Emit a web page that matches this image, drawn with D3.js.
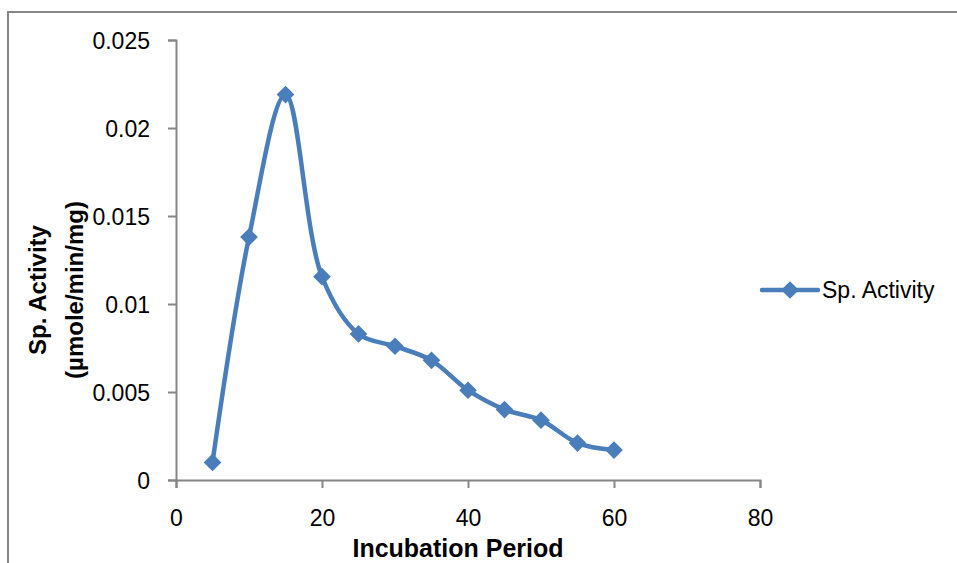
<!DOCTYPE html>
<html>
<head>
<meta charset="utf-8">
<script src="https://cdn.jsdelivr.net/npm/d3@7"></script>
<style>
  body { margin: 0; background: #fff; }
  svg { display: block; font-family: "Liberation Sans", Arial, sans-serif; }
</style>
</head>
<body>
<svg width="957" height="563"></svg>
<script>
// data
const days = [5, 10, 15, 20, 25, 30, 35, 40, 45, 50, 55, 60];
const activity = [0.0010, 0.0138, 0.0219, 0.01155, 0.0083, 0.0076, 0.0068, 0.0051, 0.0040, 0.0034, 0.0021, 0.0017];
const xTicks = [0, 20, 40, 60, 80];
const yTicks = [0, 0.005, 0.01, 0.015, 0.02, 0.025];
const seriesName = "Sp. Activity";

const svg = d3.select("svg");
const blue = "#4a7ebb";
const grey = "#868686";

// outer frame (runs off the right and bottom edge)
svg.append("rect")
  .attr("x", 8).attr("y", 12)
  .attr("width", 1200).attr("height", 1200)
  .attr("fill", "none")
  .attr("stroke", grey)
  .attr("stroke-width", 2);

const x = d3.scaleLinear().domain([0, 80]).range([176, 760]);
const y = d3.scaleLinear().domain([0, 0.025]).range([480, 40]);

// axes
const xAxis = svg.append("g")
  .attr("transform", "translate(0,480)")
  .call(d3.axisBottom(x).tickValues(xTicks).tickSize(8).tickSizeOuter(8).tickPadding(22).tickFormat(d3.format("d")));

const yAxis = svg.append("g")
  .attr("transform", "translate(176,0)")
  .call(d3.axisLeft(y).tickValues(yTicks).tickSize(8).tickSizeOuter(8).tickPadding(18)
    .tickFormat(d => d === 0 ? "0" : d3.format("")(+d.toFixed(3))));

[xAxis, yAxis].forEach(g => {
  g.select(".domain").attr("stroke", grey).attr("stroke-width", 2);
  g.selectAll(".tick line").attr("stroke", grey).attr("stroke-width", 2);
  g.selectAll(".tick text").attr("fill", "#000").style("font-size", "23px").style("font-family", "Liberation Sans, Arial, sans-serif");
});
yAxis.selectAll(".tick text").attr("dy", "0.35em");

// line and markers
const pts = days.map((d, i) => [d, activity[i]]);
const line = d3.line()
  .x(d => x(d[0]))
  .y(d => y(d[1]))
  .curve(d3.curveCatmullRom.alpha(0.5));

svg.append("path")
  .datum(pts)
  .attr("d", line)
  .attr("fill", "none")
  .attr("stroke", blue)
  .attr("stroke-width", 4.5)
  .attr("stroke-linejoin", "round");

const diamond = d3.symbol().type(d3.symbolDiamond2).size(200);

svg.selectAll(".marker")
  .data(pts)
  .join("path")
  .attr("class", "marker")
  .attr("transform", d => `translate(${x(d[0])},${y(d[1])})`)
  .attr("d", diamond)
  .attr("fill", blue);

// axis titles
svg.append("text")
  .attr("x", 458).attr("y", 557)
  .attr("text-anchor", "middle")
  .style("font-size", "25px").style("font-weight", "bold")
  .text("Incubation Period");

const yTitle = svg.append("text")
  .attr("transform", "translate(46,290) rotate(-90)")
  .attr("text-anchor", "middle")
  .style("font-size", "24px").style("font-weight", "bold");
yTitle.append("tspan").attr("x", 0).attr("dy", 0).text("Sp. Activity");
yTitle.append("tspan").attr("x", 0).attr("dy", 37).text("(µmole/min/mg)");

// legend
const lg = svg.append("g").attr("transform", "translate(762,290)");
lg.append("line")
  .attr("x1", 0).attr("x2", 56).attr("y1", 0).attr("y2", 0)
  .attr("stroke", blue).attr("stroke-width", 4.5).attr("stroke-linecap", "round");
lg.append("path")
  .attr("transform", "translate(28,0)")
  .attr("d", diamond)
  .attr("fill", blue);
lg.append("text")
  .attr("x", 60).attr("y", 8)
  .style("font-size", "23px")
  .text(seriesName);
</script>
</body>
</html>
